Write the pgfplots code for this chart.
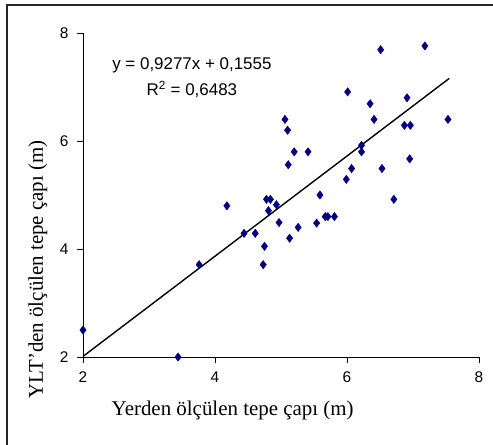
\documentclass[border=0pt]{standalone}
\usepackage{pgfplots}
\pgfplotsset{compat=1.18}
\usepackage{fontspec}
\setmainfont{Liberation Serif}
\newfontfamily\arial{Liberation Sans}
\definecolor{navy}{RGB}{0,0,128}
\begin{document}
\begin{tikzpicture}[x=1bp,y=1bp]
\useasboundingbox (-83bp,-88bp) rectangle (410bp,357bp);
\draw[line width=1.4bp,black!85] (-76bp,-88bp) -- (-76bp,352bp) -- (410bp,352bp);
\begin{axis}[
  at={(0,0)}, anchor=south west,
  scale only axis, width=396bp, height=324bp,
  xmin=2, xmax=8, ymin=2, ymax=8,
  xtick={2,4,6,8}, ytick={2,4,6,8},
  axis lines*=left,
  axis line style={line width=0.8bp},
  tick style={line width=0.8bp, black},
  tick align=outside,
  major tick length=6bp,
  /pgf/number format/assume math mode=true,
  ticklabel style={font=\arial\fontsize{15.5}{15.5}\selectfont},
  xticklabel style={yshift=-5bp},
  yticklabel style={xshift=-5bp},
  xlabel={Yerden ölçülen tepe çapı (m)},
  ylabel={YLT'den ölçülen tepe çapı (m)},
  label style={font=\fontsize{21}{21}\selectfont},
  xlabel style={at={(axis description cs:0.378,-0.164)}, anchor=center},
  ylabel style={at={(axis description cs:-0.114,0.27)}, anchor=center},
  clip=false,
]
\addplot[only marks, mark=diamond*, mark size=4.2bp, color=navy, mark options={fill=navy, draw=navy}] coordinates {
(2.0,2.5) (3.44,2.0) (3.76,3.71) (4.18,4.80) (4.44,4.29) (4.61,4.29)
(4.73,3.71) (4.75,4.05) (4.78,4.92) (4.84,4.92) (4.81,4.71) (4.93,4.82)
(4.97,4.49) (5.06,6.40) (5.10,6.20) (5.11,5.56) (5.13,4.20) (5.20,5.80)
(5.26,4.40) (5.41,5.80) (5.54,4.48) (5.59,5.00) (5.67,4.60) (5.71,4.60)
(5.81,4.60) (5.99,5.29) (6.01,6.91) (6.07,5.49) (6.22,5.92) (6.22,5.80)
(6.35,6.69) (6.41,6.40) (6.51,7.69) (6.53,5.49) (6.71,4.92) (6.87,6.29)
(6.91,6.80) (6.96,6.29) (6.95,5.67) (7.18,7.76) (7.53,6.40)
};
\addplot[black, line width=1.4bp, no marks] coordinates {(2,2.0109) (7.55,7.1597)};
\node[font=\arial\fontsize{17}{26}\selectfont, align=center] at (axis cs:3.65,7.17) {y = 0,9277x + 0,1555\\ R\textsuperscript{2} = 0,6483};
\end{axis}
\end{tikzpicture}
\end{document}
